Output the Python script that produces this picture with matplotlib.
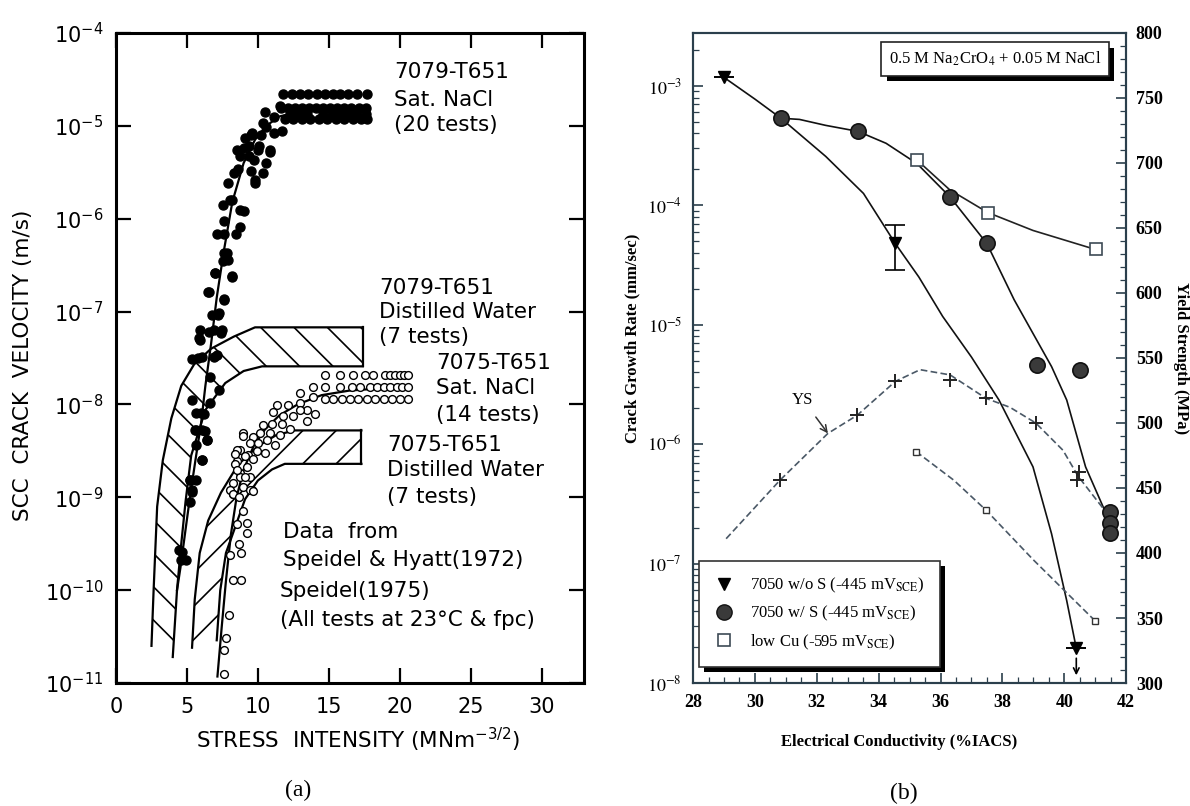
import numpy as np
import matplotlib
matplotlib.use('Agg')
import matplotlib.pyplot as plt
from matplotlib.patches import Polygon
from matplotlib.lines import Line2D
from matplotlib import patheffects as pe
from matplotlib.ticker import NullLocator, NullFormatter, LogLocator, MultipleLocator

# ---------------- panel (a): SCC crack velocity vs stress intensity ----------------
# values are log10 of the velocity (m/s)

# 7079-T651 sat. NaCl, plateau rows
plat_x1 = [11.8, 12.39, 12.98, 13.57, 14.16, 14.74, 15.33, 15.80, 16.39, 16.97, 17.68]
plat_x2 = [11.6, 12.1, 12.6, 13.1, 13.6, 14.1, 14.6, 15.1, 15.6, 16.1, 16.6, 17.1, 17.6]
plat_x3 = [12.3, 12.9, 13.5, 14.6, 15.2, 15.8, 16.4, 17.0, 17.6]
plat_x4 = [11.9, 12.5, 13.1, 13.7, 14.3, 14.9, 15.5, 16.1, 16.7, 17.3, 17.7]
plat_logv = [-4.66, -4.81, -4.87, -4.93]

# 7079-T651 sat. NaCl, rising part
sn79_x = [5.76, 5.36, 5.90, 6.57, 7.38, 7.11, 6.51, 7.24, 7.64, 6.97, 8.18, 7.91, 7.51, 7.64,
          7.11, 7.64, 8.45, 8.72, 7.64, 7.51, 8.05, 8.72, 8.99, 7.91, 8.31, 8.58, 8.72, 9.39,
          8.99, 9.39, 10.06, 9.52, 9.79, 10.33, 10.6, 10.87, 10.2, 9.52, 11.14, 11.67, 10.6,
          10.33, 11.14, 11.54, 8.16, 9.11, 9.57, 10.04, 10.86, 10.5, 9.8, 9.7, 8.5,
          7.81, 7.0, 8.16, 6.53, 7.58, 6.76, 7.2, 5.95, 6.88, 7.46, 5.83, 6.06, 6.88, 6.65,
          7.23, 5.36, 6.65, 6.18, 5.6, 6.3, 6.41, 6.06, 5.24, 5.36,
          5.62, 6.0, 5.62, 6.03, 6.43, 5.62, 6.03, 5.22, 5.62, 5.35, 5.22, 4.42, 4.68, 4.95, 4.55]
sn79_logv = [-7.50, -7.51, -7.31, -7.22, -7.23, -7.47, -6.79, -7.02, -6.88, -6.59, -6.62, -6.44, -6.46, -6.37,
             -6.16, -6.16, -6.16, -6.09, -6.03, -5.85, -5.80, -5.91, -5.92, -5.62, -5.51, -5.46, -5.33, -5.33,
             -5.24, -5.22, -5.22, -5.49, -5.58, -5.51, -5.40, -5.28, -5.10, -5.10, -5.08, -5.06, -5.01,
             -4.97, -4.90, -4.79, -5.80, -5.13, -5.08, -5.26, -5.26, -4.85, -5.62, -5.37, -5.26,
             -6.37, -6.59, -6.63, -6.79, -6.87, -7.04, -7.04, -7.20, -7.20, -7.20, -7.29, -7.49, -7.49, -7.70,
             -7.84, -7.95, -7.99, -8.10, -8.28, -8.29, -8.38, -8.60, -8.81, -8.92,
             -8.09, -8.09, -8.28, -8.28, -8.38, -8.44, -8.60, -8.81, -8.81, -8.94, -9.05, -9.57, -9.59, -9.68, -9.68]
sn79_fit_x = [4.3, 4.55, 4.9, 5.22, 5.6, 6.0, 6.3, 6.7, 7.1, 7.6, 8.2, 9.0, 9.8, 10.6, 11.5, 12.3]
sn79_fit_logv = [-10.0, -9.75, -9.35, -8.99, -8.6, -8.2, -7.8, -7.35, -6.85, -6.35, -5.82, -5.40, -5.15, -5.0, -4.9, -4.87]

# 7075-T651 sat. NaCl (open circles)
sn75_rows_x = [[14.74, 15.80, 16.73, 17.56, 18.15, 18.97, 19.33, 19.68, 20.03, 20.27, 20.62],
               [13.92, 14.74, 15.80, 16.62, 17.21, 17.92, 18.39, 18.86, 19.33, 19.80, 20.15, 20.62],
               [14.74, 15.33, 15.92, 16.50, 17.09, 17.68, 18.27, 18.86, 19.45, 20.03, 20.62]]
sn75_rows_logv = [-7.68, -7.81, -7.945]
sn75_x = [12.98, 13.92, 12.98, 12.15, 13.45, 14.04, 11.33, 11.09, 11.8, 12.5, 11.68, 10.98, 12.27,
          13.45, 10.39, 10.15, 10.86, 11.56, 9.69, 8.98, 9.45, 10.04, 10.63, 11.21, 8.74, 9.33, 9.92,
          10.51, 8.5, 9.21, 9.69, 8.74, 9.45, 8.27, 8.98, 9.57, 8.27, 12.98,
          8.51, 8.39, 9.1, 8.75, 8.04, 9.45,
          8.42, 8.96, 8.55, 9.09, 9.63, 8.28, 8.69, 8.96, 8.55, 9.23, 9.23, 8.69, 8.02, 8.83,
          8.28, 8.83, 7.96, 7.74, 7.61, 7.61]
sn75_logv = [-7.88, -7.92, -7.99, -8.01, -8.06, -8.10, -8.01, -8.08, -8.12, -8.13, -8.21, -8.21, -8.26,
             -8.18, -8.22, -8.31, -8.31, -8.33, -8.35, -8.31, -8.42, -8.42, -8.38, -8.44, -8.49, -8.54, -8.50,
             -8.52, -8.61, -8.67, -8.59, -8.74, -8.78, -8.85, -8.89, -8.92, -8.97, -8.06,
             -8.49, -8.64, -8.56, -8.78, -8.92, -8.92,
             -8.53, -8.34, -8.71, -8.78, -8.93, -8.96, -9.0, -9.15, -9.29, -9.28, -9.39, -9.50, -9.62, -9.60,
             -9.89, -9.89, -10.27, -10.52, -10.64, -10.90]
sn75_fit_x = [7.15, 7.45, 7.75, 8.1, 8.5, 9.0, 9.7, 10.5, 11.5, 12.8, 14.5, 16.5, 18.5, 20.4]
sn75_fit_logv = [-10.93, -10.4, -9.9, -9.4, -9.0, -8.7, -8.45, -8.27, -8.12, -8.0, -7.9, -7.85, -7.83, -7.82]

# distilled water bands (outer / inner boundaries)
dw79_out_x = [2.5, 2.65, 2.9, 3.3, 3.9, 4.6, 5.5, 6.7, 8.3, 9.8, 17.4]
dw79_out_logv = [-10.6, -10.0, -9.1, -8.6, -8.15, -7.8, -7.57, -7.4, -7.27, -7.17, -7.17]
dw79_in_x = [4.0, 4.3, 4.6, 4.9, 5.3, 6.3, 7.7, 9.0, 10.3, 17.4]
dw79_in_logv = [-10.72, -10.0, -9.5, -9.05, -8.55, -8.06, -7.77, -7.64, -7.59, -7.59]
dw75_out_x = [5.36, 5.55, 5.9, 6.5, 7.4, 8.6, 10.0, 11.3, 12.6, 17.3]
dw75_out_logv = [-10.62, -10.1, -9.6, -9.25, -8.95, -8.65, -8.45, -8.33, -8.28, -8.28]
dw75_in_x = [7.1, 7.35, 7.75, 8.45, 9.1, 10.0, 11.0, 11.9, 17.3]
dw75_in_logv = [-10.54, -10.0, -9.6, -9.3, -9.02, -8.82, -8.7, -8.64, -8.64]

a_yticks = [-11, -10, -9, -8, -7, -6, -5, -4]
a_xticks = [0, 5, 10, 15, 20, 25, 30]

# ---------------- panel (b): crack growth rate / yield strength vs conductivity ----------------
tri_x = [29.01, 34.54, 40.39]
tri_rate = [1.18e-3, 4.8e-5, 1.95e-8]
tri_err_lo = [0, 4.8e-5 - 2.9e-5, 0]
tri_err_hi = [0, 6.9e-5 - 4.8e-5, 0]
tri_fit_x = [29.01, 30.0, 30.84, 32.29, 33.51, 34.54, 35.3, 36.07, 37.0, 37.89, 38.99, 39.59, 40.08, 40.39]
tri_fit_logr = [-2.93, -3.11, -3.27, -3.59, -3.90, -4.32, -4.6, -4.93, -5.27, -5.63, -6.19, -6.75, -7.31, -7.71]

circ_x = [30.84, 33.33, 36.31, 37.50, 39.11, 40.51, 41.48, 41.48, 41.48]
circ_rate = [5.4e-4, 4.2e-4, 1.17e-4, 4.8e-5, 4.6e-6, 4.2e-6, 2.7e-7, 2.2e-7, 1.8e-7]
circ_fit_x = [30.84, 31.44, 32.29, 33.33, 34.24, 35.24, 36.31, 37.50, 38.38, 39.59, 40.08, 40.69, 41.3]
circ_fit_logr = [-3.27, -3.28, -3.33, -3.38, -3.48, -3.65, -3.93, -4.32, -4.79, -5.35, -5.63, -6.19, -6.55]

sq_x = [35.24, 37.53, 41.02]
sq_rate = [2.4e-4, 8.7e-5, 4.3e-5]
sq_fit_x = [35.24, 36.3, 37.53, 38.99, 41.02]
sq_fit_logr = [-3.62, -3.87, -4.06, -4.21, -4.37]

ys_x = [30.81, 33.31, 34.54, 36.31, 37.47, 39.08, 40.47, 40.42]
ys_mpa = [456, 506, 532, 533, 519, 500, 462, 456]
ys_fit_x = [29.07, 30.81, 32.36, 33.31, 34.54, 35.34, 36.31, 37.47, 38.25, 39.08, 39.96, 40.45, 41.3]
ys_fit_mpa = [411, 456, 492, 506, 532, 541, 537, 519, 512, 500, 479, 459, 433]

lowcu_ys_x = [35.21, 37.47, 40.99]
lowcu_ys_mpa = [478, 433, 348]
lowcu_fit_x = [35.21, 36.43, 37.47, 38.99, 40.99]
lowcu_fit_mpa = [478, 456, 433, 395, 348]

b_xticks = [28, 30, 32, 34, 36, 38, 40, 42]
b_yticks = [-8, -7, -6, -5, -4, -3]
b_rticks = [300, 350, 400, 450, 500, 550, 600, 650, 700, 750, 800]

legend_labels = [r'7050 w/o S (-445 mV$_{\mathrm{SCE}}$)',
                 r'7050 w/ S (-445 mV$_{\mathrm{SCE}}$)',
                 r'low Cu (-595 mV$_{\mathrm{SCE}}$)']

plt.rcParams['hatch.linewidth'] = 1.2
SANS = 'DejaVu Sans'
SERIF = 'Liberation Serif'

fig = plt.figure(figsize=(11.9, 8.06), dpi=100)

# ======== panel (a) ========
ax = fig.add_axes([0.0975, 0.1526, 0.3933, 0.8065])
ax.set_yscale('log')
ax.set_xlim(0, 33)
ax.set_ylim(1e-11, 1e-4)


def band(ax, ox, olog, ix, ilog, hatch):
    ox, olog, ix, ilog = map(np.asarray, (ox, olog, ix, ilog))
    verts = np.column_stack([np.r_[ox, ix[::-1]], 10.0 ** np.r_[olog, ilog[::-1]]])
    ax.add_patch(Polygon(verts, closed=True, facecolor='none', edgecolor='k',
                         lw=0, hatch=hatch, zorder=1))
    ax.plot(ox, 10.0 ** olog, color='k', lw=1.6, zorder=2)
    ax.plot(ix, 10.0 ** ilog, color='k', lw=1.6, zorder=2)
    ax.plot([ox[-1], ix[-1]], [10.0 ** olog[-1], 10.0 ** ilog[-1]], color='k', lw=1.6, zorder=2)


band(ax, dw79_out_x, dw79_out_logv, dw79_in_x, dw79_in_logv, '\\')
band(ax, dw75_out_x, dw75_out_logv, dw75_in_x, dw75_in_logv, '/')

ax.plot(sn79_fit_x, 10.0 ** np.array(sn79_fit_logv), color='k', lw=1.6, zorder=3)
ax.plot(sn75_fit_x, 10.0 ** np.array(sn75_fit_logv), color='k', lw=1.6, zorder=3)

for xs, lv in zip([plat_x1, plat_x2, plat_x3, plat_x4], plat_logv):
    ax.plot(xs, [10.0 ** lv] * len(xs), 'o', color='k', ms=6.5, zorder=4)
ax.plot(sn79_x, 10.0 ** np.array(sn79_logv), 'o', color='k', ms=6.5, zorder=4)

for xs, lv in zip(sn75_rows_x, sn75_rows_logv):
    ax.plot(xs, [10.0 ** lv] * len(xs), 'o', mfc='white', mec='k', mew=1.0, ms=5.6, zorder=4)
ax.plot(sn75_x, 10.0 ** np.array(sn75_logv), 'o', mfc='white', mec='k', mew=1.0, ms=5.6, zorder=4)

ax.set_yticks([10.0 ** e for e in a_yticks], [r'$10^{%d}$' % e for e in a_yticks])
ax.yaxis.set_minor_locator(NullLocator())
ax.set_xticks(a_xticks, [str(t) for t in a_xticks])
ax.tick_params(direction='in', length=11, width=1.6, top=True, right=True,
               labelsize=15, pad=9)
ax.tick_params(axis='x', pad=10)
for s in ax.spines.values():
    s.set_linewidth(2.2)

ax.set_xlabel(r'STRESS  INTENSITY (MNm$^{-3/2}$)', fontsize=15.5, va='center', family=SANS)
ax.xaxis.set_label_coords(0.517, -0.088)
ax.set_ylabel('SCC  CRACK  VELOCITY (m/s)', fontsize=15.5, va='center', ha='center', family=SANS)
ax.yaxis.set_label_coords(-0.199, 0.489)

a_texts = [
    (0.594, 0.940, '7079-T651'), (0.594, 0.897, 'Sat. NaCl'), (0.594, 0.858, '(20 tests)'),
    (0.562, 0.608, '7079-T651'), (0.562, 0.571, 'Distilled Water'), (0.562, 0.532, '(7 tests)'),
    (0.684, 0.492, '7075-T651'), (0.684, 0.454, 'Sat. NaCl'), (0.684, 0.412, '(14 tests)'),
    (0.579, 0.366, '7075-T651'), (0.579, 0.328, 'Distilled Water'), (0.579, 0.286, '(7 tests)'),
    (0.357, 0.232, 'Data  from'), (0.357, 0.189, 'Speidel & Hyatt(1972)'),
    (0.350, 0.142, 'Speidel(1975)'), (0.350, 0.097, '(All tests at 23\u00b0C & fpc)'),
]
for tx, ty, s in a_texts:
    ax.text(tx, ty, s, transform=ax.transAxes, fontsize=15.5, family=SANS,
            ha='left', va='center')

fig.text(298 / 1190, 1 - 790 / 806, '(a)', ha='center', va='center', family=SERIF, fontsize=17)

# ======== panel (b) ========
axb = fig.add_axes([0.5824, 0.1526, 0.3639, 0.8065])
axb.set_yscale('log')
axb.set_xlim(28, 42)
axb.set_ylim(1e-8, 10 ** -2.556)
axr = axb.twinx()
axr.set_ylim(300, 800)

axb.plot(tri_fit_x, 10.0 ** np.array(tri_fit_logr), color='#111111', lw=1.2, zorder=2)
axb.plot(circ_fit_x, 10.0 ** np.array(circ_fit_logr), color='#111111', lw=1.2, zorder=2)
axb.plot(sq_fit_x, 10.0 ** np.array(sq_fit_logr), color='#222222', lw=1.2, zorder=2)

axb.errorbar(tri_x, tri_rate, yerr=[tri_err_lo, tri_err_hi], fmt='v', color='k', ms=9,
             capsize=7, elinewidth=1.2, capthick=1.2, zorder=4)
axb.annotate('', xy=(tri_x[-1], 1.1e-8), xytext=(tri_x[-1], 1.7e-8),
             arrowprops=dict(arrowstyle='->', color='k', lw=1.2))
axb.plot(circ_x, circ_rate, 'o', mfc='#3a3a3a', mec='#111111', mew=1.2, ms=11, zorder=4)
axb.plot(sq_x, sq_rate, 's', mfc='white', mec='#3d4a55', mew=1.2, ms=9, zorder=4)

axr.plot(ys_fit_x, ys_fit_mpa, color='#4a5866', lw=1.2, ls=(0, (4, 2)), zorder=2)
axr.plot(ys_x, ys_mpa, '+', color='#222222', ms=10, mew=1.4, zorder=4)
axr.plot(lowcu_fit_x, lowcu_fit_mpa, color='#4a5866', lw=1.2, ls=(0, (4, 2)), zorder=2)
axr.plot(lowcu_ys_x, lowcu_ys_mpa, 's', mfc='white', mec='#333333', mew=1.0, ms=5, zorder=4)
axr.annotate('YS', xy=(32.36, 492), xytext=(31.55, 518), family=SERIF, fontsize=12,
             ha='center', va='center',
             arrowprops=dict(arrowstyle='->', color='#333333', lw=1.1, shrinkA=6, shrinkB=0))

spine_c = '#2b3f4c'
for a in (axb, axr):
    for s in a.spines.values():
        s.set_color(spine_c)
        s.set_linewidth(1.5)

axb.set_xticks(b_xticks, [str(t) for t in b_xticks], fontweight='bold', family=SERIF, fontsize=13)
axb.xaxis.set_minor_locator(MultipleLocator(0.5))
axb.set_yticks([10.0 ** e for e in b_yticks], [r'$10^{%d}$' % e for e in b_yticks],
               family=SERIF, fontsize=13, math_fontfamily='stix')
axb.yaxis.set_minor_locator(LogLocator(base=10, subs=np.arange(2, 10)))
axb.yaxis.set_minor_formatter(NullFormatter())
axb.tick_params(which='major', direction='in', length=7, width=1.2, color=spine_c, pad=8)
axb.tick_params(which='minor', direction='in', length=4, width=0.9, color=spine_c)
axb.tick_params(axis='y', which='both', left=True, right=False)

axr.set_yticks(b_rticks, [str(t) for t in b_rticks], fontweight='bold', family=SERIF, fontsize=13)
axr.yaxis.set_minor_locator(MultipleLocator(10))
axr.tick_params(which='major', direction='in', length=7, width=1.2, color=spine_c, pad=7)
axr.tick_params(which='minor', direction='in', length=4, width=0.9, color=spine_c)

axb.set_xlabel('Electrical Conductivity (%IACS)', family=SERIF, fontweight='bold',
               fontsize=12, va='center')
axb.xaxis.set_label_coords(0.476, -0.091)
axb.set_ylabel('Crack Growth Rate (mm/sec)', family=SERIF, fontweight='bold',
               fontsize=12, va='center', ha='center')
axb.yaxis.set_label_coords(-0.141, 0.53)
axr.set_ylabel('Yield Strength (MPa)', family=SERIF, fontweight='bold', fontsize=12,
               rotation=270, va='center', ha='center')
axr.yaxis.set_label_coords(1.127, 0.5)

box = axr.text(0.697, 0.96, r'0.5 M Na$_2$CrO$_4$ + 0.05 M NaCl', transform=axr.transAxes,
               ha='center', va='center', family=SERIF, fontsize=12, math_fontfamily='stix',
               bbox=dict(boxstyle='square,pad=0.45', fc='white', ec='#222222', lw=1.2), zorder=6)
box.get_bbox_patch().set_path_effects([
    pe.SimplePatchShadow(offset=(4, -4), shadow_rgbFace='k', alpha=1.0), pe.Normal()])

handles = [Line2D([], [], marker='v', ls='none', color='k', ms=9),
           Line2D([], [], marker='o', ls='none', mfc='#3a3a3a', mec='#111111', ms=11),
           Line2D([], [], marker='s', ls='none', mfc='white', mec='#3d4a55', mew=1.2, ms=9)]
leg = axr.legend(handles, legend_labels, loc='lower left', bbox_to_anchor=(0.013, 0.025),
                 frameon=True, fancybox=False, framealpha=1, edgecolor='#333333',
                 prop={'family': SERIF, 'size': 12}, handlelength=1.2, handletextpad=1.0,
                 borderpad=0.9, labelspacing=0.55, borderaxespad=0)
leg.get_frame().set_linewidth(1.2)
leg.get_frame().set_path_effects([
    pe.SimplePatchShadow(offset=(4, -4), shadow_rgbFace='k', alpha=1.0), pe.Normal()])
for t in leg.get_texts():
    t.set_math_fontfamily('stix')

fig.text(904 / 1190, 1 - 793 / 806, '(b)', ha='center', va='center', family=SERIF, fontsize=17)

fig.savefig('out.png', dpi=100)
